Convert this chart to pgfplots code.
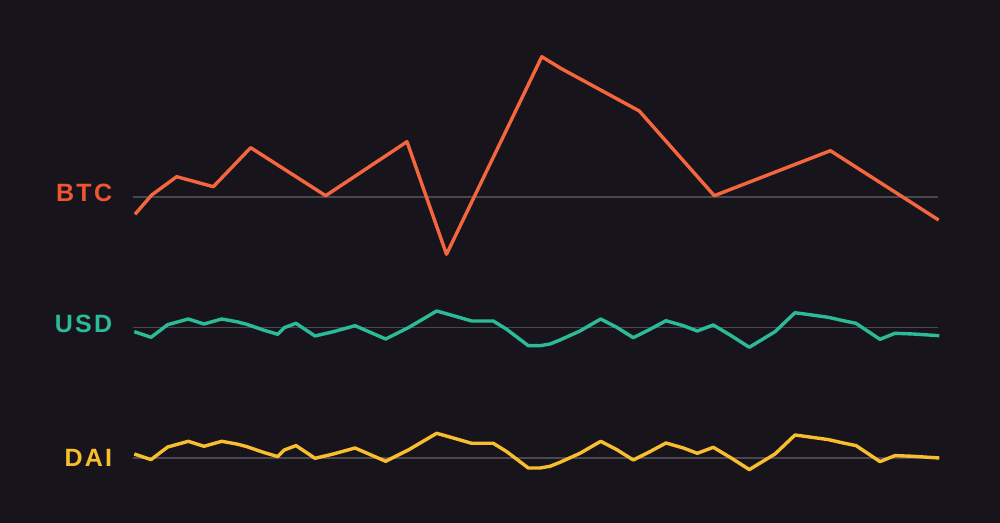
\documentclass[border=0pt]{standalone}
\usepackage{fontspec}
\setmainfont{Liberation Sans}
\newfontfamily\labelfont[LetterSpace=9]{Liberation Sans Bold}
\usepackage{pgfplots}
\pgfplotsset{compat=1.18}
\definecolor{bgcol}{HTML}{17151B}
\definecolor{gridcol}{HTML}{4A474F}
\definecolor{btc}{HTML}{F5663E}
\definecolor{btclabel}{HTML}{F05532}
\definecolor{usd}{HTML}{2BBB98}
\definecolor{dai}{HTML}{F9BE2E}
\begin{document}
\begin{tikzpicture}
\fill[bgcol] (0,0) rectangle (1000bp,523bp);
\begin{axis}[
  width=1000bp, height=523bp, scale only axis,
  xmin=0, xmax=1000, ymin=0, ymax=523,
  axis lines=none, ticks=none,
  clip=false,
]
% baselines
\addplot[gridcol, line width=1.6bp] coordinates {(133,326) (938,326)};
\addplot[gridcol, line width=1.6bp] coordinates {(133,195.3) (938,195.3)};
\addplot[gridcol, line width=1.6bp] coordinates {(133,64.7) (938,64.7)};
% BTC
\addplot[btc, line width=3.4bp, line join=round, line cap=butt] coordinates {
(135,308.7) (151.7,328) (176.7,346.3) (213.3,336.3) (250.7,375.3)
(325.7,327.3) (407,381.3) (446.5,268.7) (541.8,466.3) (560.7,454.7)
(639.3,412) (714.3,327.3) (830.4,372.3) (938.6,303)
};
% USD
\addplot[usd, line width=3.4bp, line join=round] coordinates {
(134.3,191.3) (151,185.7) (167.7,198.3) (188.3,204) (204,199) (221.7,204)
(236.7,201.3) (246.7,198.7) (263.3,193) (277.7,188.7) (284.3,195.3) (296,199.7)
(315,187) (333.3,191.3) (355,197.3) (385.7,184) (408.3,195.3) (436.7,212)
(453.3,207.3) (471.7,202) (493.3,202) (506.7,193.7) (528.3,177.3) (540,177.3)
(550,179) (560,183) (580,192) (600.7,204) (616.7,195.7) (633.3,185.3)
(650,193.7) (666,202.3) (683.3,197.3) (697.3,192) (713.3,198) (731.7,187)
(749.3,175.7) (775,191.3) (795,210.3) (806.7,208.7) (828.3,205.7) (843.3,202.3)
(856,199.7) (880,183.7) (895,189.7) (913.3,189) (939.3,187.3)
};
% DAI
\addplot[dai, line width=3.4bp, line join=round] coordinates {
(134.3,69.0) (151,63.4) (167.7,76.0) (188.3,81.7) (204,76.7) (221.7,81.7)
(236.7,79.0) (246.7,76.4) (263.3,70.7) (277.7,66.4) (284.3,73.0) (296,77.4)
(315,64.7) (333.3,69.0) (355,75.0) (385.7,61.7) (408.3,73.0) (436.7,89.7)
(453.3,85.0) (471.7,79.7) (493.3,79.7) (506.7,71.4) (528.3,55.0) (540,55.0)
(550,56.7) (560,60.7) (580,69.7) (600.7,81.7) (616.7,73.4) (633.3,63.0)
(650,71.4) (666,80.0) (683.3,75.0) (697.3,69.7) (713.3,75.7) (731.7,64.7)
(749.3,53.4) (775,69.0) (795,88.0) (806.7,86.4) (828.3,83.4) (843.3,80.0)
(856,77.4) (880,61.4) (895,67.4) (913.3,66.7) (939.3,65.0)
};
\node[anchor=base east, inner sep=0pt, text=btclabel, font=\labelfont\fontsize{25bp}{28bp}\selectfont] at (axis cs:112.3,321.3) {BTC};
\node[anchor=base east, inner sep=0pt, text=usd, font=\labelfont\fontsize{25bp}{28bp}\selectfont] at (axis cs:112.3,190.5) {USD};
\node[anchor=base east, inner sep=0pt, text=dai, font=\labelfont\fontsize{25bp}{28bp}\selectfont] at (axis cs:112.3,56.3) {DAI};
\end{axis}
\end{tikzpicture}
\end{document}
